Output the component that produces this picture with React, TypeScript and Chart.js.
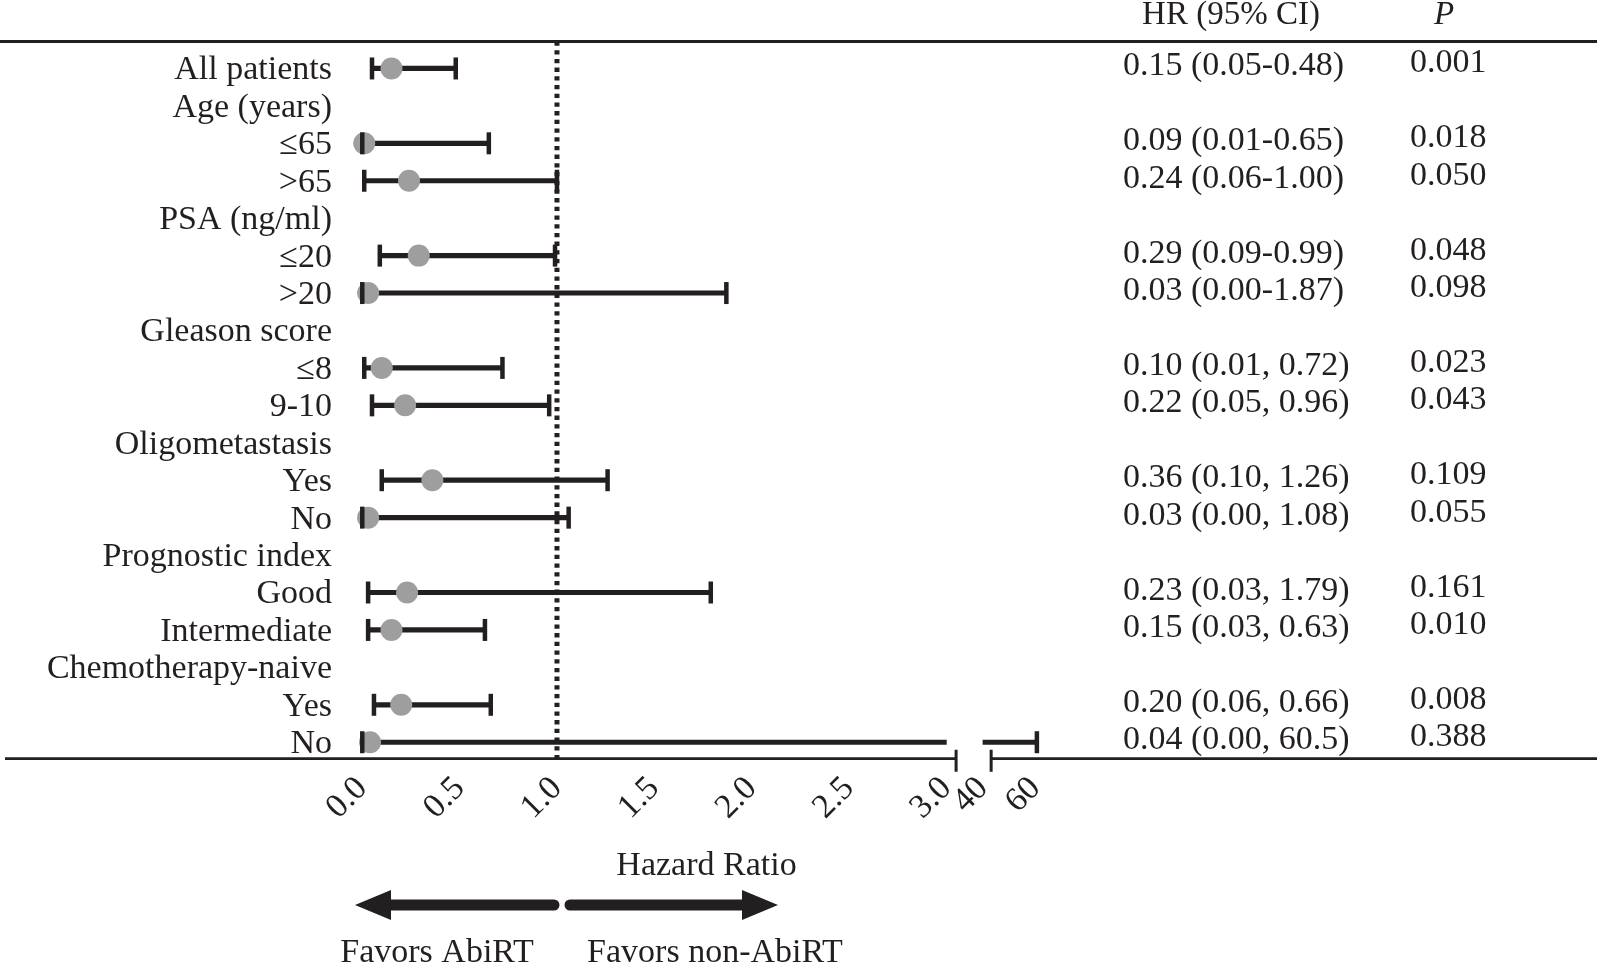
import React, { useEffect, useRef } from "react";
import { Chart, registerables } from "chart.js";

Chart.register(...registerables);

// ---- data ----
const rowLabels = [
  "All patients", "Age (years)", "≤65", ">65", "PSA (ng/ml)", "≤20", ">20",
  "Gleason score", "≤8", "9-10", "Oligometastasis", "Yes", "No",
  "Prognostic index", "Good", "Intermediate", "Chemotherapy-naive", "Yes", "No",
];
const hrPoint = [0.15, null, 0.01, 0.24, null, 0.29, 0.03, null, 0.10, 0.22, null, 0.36, 0.03, null, 0.23, 0.15, null, 0.20, 0.04];
const ciLow = [0.05, null, 0.00, 0.01, null, 0.09, 0.00, null, 0.01, 0.05, null, 0.10, 0.00, null, 0.03, 0.03, null, 0.06, 0.00];
const ciHigh = [0.48, null, 0.65, 1.00, null, 0.99, 1.87, null, 0.72, 0.96, null, 1.26, 1.06, null, 1.79, 0.63, null, 0.66, 60.5];
const hrText = [
  "0.15 (0.05-0.48)", "", "0.09 (0.01-0.65)", "0.24 (0.06-1.00)", "", "0.29 (0.09-0.99)", "0.03 (0.00-1.87)",
  "", "0.10 (0.01, 0.72)", "0.22 (0.05, 0.96)", "", "0.36 (0.10, 1.26)", "0.03 (0.00, 1.08)",
  "", "0.23 (0.03, 1.79)", "0.15 (0.03, 0.63)", "", "0.20 (0.06, 0.66)", "0.04 (0.00, 60.5)",
];
const pText = [
  "0.001", "", "0.018", "0.050", "", "0.048", "0.098", "", "0.023", "0.043", "",
  "0.109", "0.055", "", "0.161", "0.010", "", "0.008", "0.388",
];
const xTickValues = [0, 0.5, 1.0, 1.5, 2.0, 2.5, 3.0, 40, 60];
const xTickLabels = ["0.0", "0.5", "1.0", "1.5", "2.0", "2.5", "3.0", "40", "60"];
const referenceHR = 1.0;

// ---- axis break (0-3 linear, then 40-60 compressed) ----
const LOW_END = 3.0;
const HIGH_START = 40;
const BREAK_POS = 3.188;
const BREAK_SLOPE = 0.01351;
const BREAK_GAP = [3.05, 3.23];
const brk = (v: number) => (v <= LOW_END ? v : BREAK_POS + (v - HIGH_START) * BREAK_SLOPE);

const Y_MIN = -0.72;
const Y_MAX = 18.44;

const INK = "#231f20";
const DOT = "#9e9e9e";
const FONT = "'Liberation Serif', 'Times New Roman', serif";

const decor = {
  id: "decor",
  afterDraw(chart: any) {
    const { ctx, chartArea, scales } = chart;
    const xs = scales.x;
    const ys = scales.y;
    ctx.save();
    ctx.strokeStyle = INK;
    ctx.fillStyle = INK;
    ctx.lineWidth = 2.8;
    // top rule
    ctx.beginPath();
    ctx.moveTo(0, chartArea.top);
    ctx.lineTo(1597, chartArea.top);
    ctx.stroke();
    // bottom axis with break
    const b = chartArea.bottom;
    const g1 = xs.getPixelForValue(BREAK_GAP[0]);
    const g2 = xs.getPixelForValue(BREAK_GAP[1]);
    ctx.beginPath();
    ctx.moveTo(5, b);
    ctx.lineTo(g1, b);
    ctx.moveTo(g2, b);
    ctx.lineTo(1597, b);
    ctx.stroke();
    ctx.lineWidth = 3;
    ctx.beginPath();
    ctx.moveTo(g1, b - 9);
    ctx.lineTo(g1, b + 13);
    ctx.moveTo(g2, b - 9);
    ctx.lineTo(g2, b + 13);
    ctx.stroke();

    // headers
    ctx.textBaseline = "alphabetic";
    ctx.textAlign = "center";
    ctx.font = `33px ${FONT}`;
    ctx.fillText("HR (95% CI)", 1231, 24);
    ctx.font = `italic 33px ${FONT}`;
    ctx.fillText("P", 1444, 24);

    // columns
    ctx.textAlign = "left";
    ctx.font = `34px ${FONT}`;
    hrText.forEach((t, i) => {
      if (!t) return;
      const py = ys.getPixelForValue(i);
      ctx.fillText(t, 1123, py + 7);
      ctx.fillText(pText[i], 1410, py + 4);
    });

    // arrows
    const ay = 905;
    ctx.lineWidth = 11;
    ctx.lineCap = "round";
    ctx.beginPath();
    ctx.moveTo(554, ay);
    ctx.lineTo(385, ay);
    ctx.moveTo(570, ay);
    ctx.lineTo(748, ay);
    ctx.stroke();
    ctx.beginPath();
    ctx.moveTo(355, ay);
    ctx.lineTo(391, ay - 15);
    ctx.lineTo(391, ay + 15);
    ctx.closePath();
    ctx.fill();
    ctx.beginPath();
    ctx.moveTo(778, ay);
    ctx.lineTo(742, ay - 15);
    ctx.lineTo(742, ay + 15);
    ctx.closePath();
    ctx.fill();

    ctx.font = `34px ${FONT}`;
    ctx.textAlign = "center";
    ctx.textBaseline = "middle";
    ctx.fillText("Favors AbiRT", 437, 953);
    ctx.fillText("Favors non-AbiRT", 715, 953);
    ctx.restore();
  },
};

export default function App() {
  const ref = useRef<HTMLCanvasElement | null>(null);

  useEffect(() => {
    if (!ref.current) return;
    const bars: any[] = [];
    const caps: any[] = [];
    const pts: any[] = [];
    rowLabels.forEach((_, i) => {
      const lo = ciLow[i];
      const hi = ciHigh[i];
      const hr = hrPoint[i];
      if (lo == null || hi == null || hr == null) return;
      if (hi > LOW_END) {
        bars.push({ x: [lo, LOW_END], y: i });
        bars.push({ x: [brk(HIGH_START), brk(hi)], y: i });
      } else {
        bars.push({ x: [lo, hi], y: i });
      }
      caps.push({ x: lo, y: i });
      caps.push({ x: brk(hi), y: i });
      pts.push({ x: hr, y: i });
    });

    const chart = new Chart(ref.current, {
      type: "bar",
      data: {
        datasets: [
          {
            type: "line",
            data: [{ x: referenceHR, y: Y_MIN }, { x: referenceHR, y: Y_MAX }],
            borderColor: INK,
            borderWidth: 5,
            borderDash: [4.3, 4.4],
            pointRadius: 0,
            order: 5,
            clip: false,
          } as any,
          {
            type: "bar",
            indexAxis: "y",
            data: bars,
            backgroundColor: INK,
            barThickness: 4.5,
            borderWidth: 0,
            order: 4,
            clip: false,
          } as any,
          {
            type: "scatter",
            data: pts,
            backgroundColor: DOT,
            borderWidth: 0,
            pointRadius: 11,
            order: 2,
            clip: false,
          } as any,
          {
            type: "scatter",
            data: caps,
            pointStyle: "line",
            rotation: 90,
            pointRadius: 11,
            borderColor: INK,
            borderWidth: 4.5,
            order: 1,
            clip: false,
          } as any,
        ],
      },
      options: {
        indexAxis: "y",
        responsive: false,
        animation: false,
        devicePixelRatio: 1,
        layout: { padding: { top: 41.5, right: 545, bottom: 0, left: 0 } },
        plugins: { legend: { display: false }, tooltip: { enabled: false } },
        scales: {
          x: {
            type: "linear",
            offset: false,
            min: -0.022,
            max: 3.558,
            grid: { display: false, drawTicks: false, offset: false },
            border: { display: false },
            afterBuildTicks: (s: any) => {
              s.ticks = xTickValues.map((v) => ({ value: brk(v) }));
            },
            afterFit: (s: any) => {
              s.height = 209.3;
            },
            ticks: {
              autoSkip: false,
              minRotation: 45,
              maxRotation: 45,
              padding: 10,
              color: INK,
              font: { family: FONT, size: 34 },
              callback: (_v: any, i: number) => xTickLabels[i],
            },
            title: {
              display: true,
              text: "Hazard Ratio",
              color: INK,
              font: { family: FONT, size: 34 },
              padding: { top: 0, bottom: 82 },
            },
          },
          y: {
            type: "linear",
            offset: false,
            reverse: true,
            min: Y_MIN,
            max: Y_MAX,
            grid: { display: false, drawTicks: false, offset: false },
            border: { display: false },
            afterBuildTicks: (s: any) => {
              s.ticks = rowLabels.map((_, i) => ({ value: i }));
            },
            afterFit: (s: any) => {
              s.width = 358;
            },
            ticks: {
              autoSkip: false,
              padding: 26,
              labelOffset: 2,
              color: INK,
              font: { family: FONT, size: 34, lineHeight: 0.5 },
              callback: (v: any) => rowLabels[Math.round(v)] ?? "",
            },
          },
        },
      } as any,
      plugins: [decor],
    });
    return () => chart.destroy();
  }, []);

  return (
    <div style={{ position: "absolute", left: 0, top: 0, width: 1600, height: 968, background: "#fff" }}>
      <canvas ref={ref} width={1600} height={968} />
    </div>
  );
}
